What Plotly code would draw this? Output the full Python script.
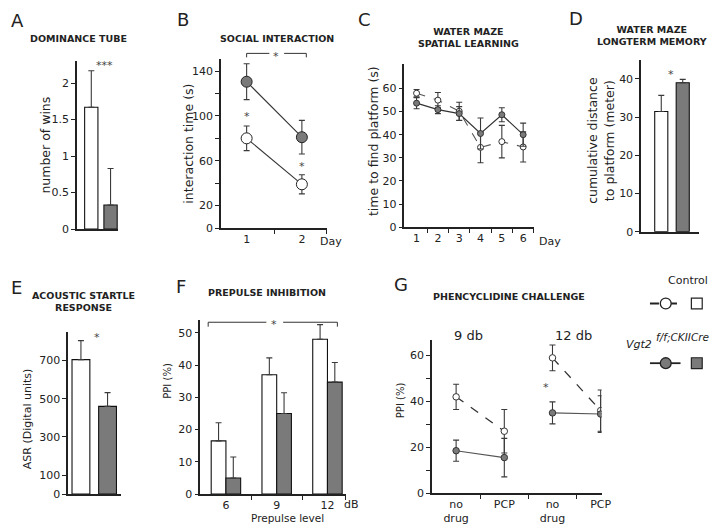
import plotly.graph_objects as go

W, H = 720, 524
FONT = "DejaVu Sans"
INK = "#222222"
GRAY = "#7a7a7a"
EBC = "#3a3a3a"

# ---------------- data ----------------
# A dominance tube
a_pos = [0, 1]
a_means = [1.67, 0.33]
a_err = [0.50, 0.50]
# B social interaction
b_days = [1, 2]
b_ctrl = [80, 39]
b_ctrl_err = [11, 8.5]
b_mut = [130.5, 81]
b_mut_err = [16, 15]
# C water maze spatial learning
c_days = [1, 2, 3, 4, 5, 6]
c_ctrl = [57.9, 54.9, 50.1, 34.5, 37.0, 34.7]
c_ctrl_err = [1.6, 3.3, 3.9, 6.6, 7.0, 6.5]
c_mut = [53.6, 50.8, 49.1, 40.5, 48.6, 40.0]
c_mut_err = [2.4, 1.7, 3.0, 6.7, 3.0, 5.0]
# D water maze longterm memory
d_pos = [0, 1]
d_means = [31.5, 39.0]
d_err = [4.2, 0.9]
# E acoustic startle
e_pos = [0, 1]
e_means = [705, 460]
e_err = [100, 72]
# F prepulse inhibition
f_pos = [0, 1, 2]
f_levels = ["6", "9", "12"]
f_ctrl = [16.5, 37.0, 48.0]
f_ctrl_err = [5.6, 5.2, 4.5]
f_mut = [5.0, 25.0, 34.7]
f_mut_err = [6.5, 6.4, 6.1]
# G phencyclidine challenge
g_pos = [1, 2, 3, 4]
g_labels = ["no<br>drug", "PCP", "no<br>drug", "PCP"]
g_ctrl = [42.0, 27.0, 59.0, 36.0]
g_ctrl_err = [5.5, 9.5, 5.6, 9.0]
g_mut = [18.5, 15.5, 35.0, 34.5]
g_mut_err = [4.6, 8.4, 4.8, 8.0]


def fx(px):
    return px / W


def fy(py):
    return 1 - py / H


def dom_x(a, b):
    return [fx(a), fx(b)]


def dom_y(top, bottom):
    return [fy(bottom), fy(top)]


def axis(**kw):
    d = dict(showline=True, linecolor=INK, linewidth=1.5, ticks="outside",
             ticklen=4, tickwidth=1.2, tickcolor=INK, showgrid=False,
             zeroline=False, fixedrange=True,
             tickfont=dict(family=FONT, size=11, color=INK))
    d.update(kw)
    return d


def ebar(err, up_only=False, width=3):
    d = dict(type="data", array=err, color=EBC, thickness=1.1, width=width,
             visible=True)
    if up_only:
        d["symmetric"] = False
        d["arrayminus"] = [0] * len(err)
    return d


fig = go.Figure()
bar_line = dict(color="#111111", width=1.1)

# ---- A ----
fig.add_trace(go.Bar(x=a_pos, y=a_means, width=0.69,
                     marker=dict(color=["white", GRAY], line=bar_line),
                     error_y=ebar(a_err, True), xaxis="x", yaxis="y"))
# ---- B ----
fig.add_trace(go.Scatter(x=b_days, y=b_mut, mode="lines+markers",
                         line=dict(color="#333", width=1.1),
                         marker=dict(size=11, color=GRAY, line=dict(color="#222", width=1)),
                         error_y=ebar(b_mut_err), xaxis="x2", yaxis="y2"))
fig.add_trace(go.Scatter(x=b_days, y=b_ctrl, mode="lines+markers",
                         line=dict(color="#333", width=1.1),
                         marker=dict(size=11, color="white", line=dict(color="#222", width=1)),
                         error_y=ebar(b_ctrl_err), xaxis="x2", yaxis="y2"))
# ---- C ----
fig.add_trace(go.Scatter(x=c_days, y=c_ctrl, mode="lines+markers",
                         line=dict(color="#555", width=1.1, dash="dash"),
                         marker=dict(size=6, color="white", line=dict(color="#333", width=1)),
                         error_y=ebar(c_ctrl_err), xaxis="x3", yaxis="y3"))
fig.add_trace(go.Scatter(x=c_days, y=c_mut, mode="lines+markers",
                         line=dict(color="#333", width=1.2),
                         marker=dict(size=6, color=GRAY, line=dict(color="#333", width=1)),
                         error_y=ebar(c_mut_err), xaxis="x3", yaxis="y3"))
# ---- D ----
fig.add_trace(go.Bar(x=d_pos, y=d_means, width=0.61,
                     marker=dict(color=["white", GRAY], line=bar_line),
                     error_y=ebar(d_err, True), xaxis="x4", yaxis="y4"))
# ---- E ----
fig.add_trace(go.Bar(x=e_pos, y=e_means, width=0.67,
                     marker=dict(color=["white", GRAY], line=bar_line),
                     error_y=ebar(e_err, True), xaxis="x5", yaxis="y5"))
# ---- F ----
fig.add_trace(go.Bar(x=f_pos, y=f_ctrl, width=0.29, offset=-0.29,
                     marker=dict(color="white", line=bar_line),
                     error_y=ebar(f_ctrl_err, True), xaxis="x6", yaxis="y6"))
fig.add_trace(go.Bar(x=f_pos, y=f_mut, width=0.29, offset=0,
                     marker=dict(color=GRAY, line=bar_line),
                     error_y=ebar(f_mut_err, True), xaxis="x6", yaxis="y6"))
# ---- G ----
for sl in (slice(0, 2), slice(2, 4)):
    fig.add_trace(go.Scatter(x=g_pos[sl], y=g_ctrl[sl], mode="lines+markers",
                             line=dict(color="#333", width=1.3, dash="dash"),
                             marker=dict(size=6.5, color="white", line=dict(color="#333", width=1)),
                             error_y=ebar(g_ctrl_err[sl]), xaxis="x7", yaxis="y7"))
    fig.add_trace(go.Scatter(x=g_pos[sl], y=g_mut[sl], mode="lines+markers",
                             line=dict(color="#555", width=1.1),
                             marker=dict(size=6.5, color=GRAY, line=dict(color="#333", width=1)),
                             error_y=ebar(g_mut_err[sl]), xaxis="x7", yaxis="y7"))

noxt = dict(showticklabels=False, ticks="")
minor_tick = lambda vals: dict(tickvals=vals, ticks="outside", ticklen=4,
                               tickwidth=1.2, tickcolor=INK)

fig.update_layout(
    width=W, height=H, margin=dict(l=0, r=0, t=0, b=0),
    plot_bgcolor="white", paper_bgcolor="white", showlegend=False,
    barmode="overlay", font=dict(family=FONT, color=INK),
    # A
    xaxis=axis(domain=dom_x(70, 112), range=[-0.74, 1.41], anchor="y", **noxt),
    yaxis=axis(domain=dom_y(54, 224), range=[0, 2.3], anchor="x",
               tickvals=[0, 0.5, 1, 1.5, 2], ticktext=["0", "0.5", "1", "1.5", "2"]),
    # B
    xaxis2=axis(domain=dom_x(216, 323), range=[0.536, 2.446], anchor="y2",
                tickvals=b_days, ticktext=[str(d) for d in b_days], ticks="",
                minor=minor_tick([1.5, 2.44])),
    yaxis2=axis(domain=dom_y(52, 223), range=[0, 150.5], anchor="x2",
                tickvals=[0, 20, 40, 60, 80, 100, 120, 140],
                ticktext=["0", "20", " ", "60", " ", "100", " ", "140"]),
    # C
    xaxis3=axis(domain=dom_x(402, 533), range=[0.43, 6.49], anchor="y3",
                tickvals=c_days, ticktext=[str(d) for d in c_days], ticks="",
                minor=minor_tick([1.5, 2.5, 3.5, 4.5, 5.5, 6.48])),
    yaxis3=axis(domain=dom_y(57, 222.3), range=[0, 70.4], anchor="x3",
                tickvals=[0, 10, 20, 30, 40, 50, 60]),
    # D
    xaxis4=axis(domain=dom_x(642, 701), range=[-0.94, 1.77], anchor="y4", **noxt),
    yaxis4=axis(domain=dom_y(53, 226.7), range=[0, 44.9], anchor="x4",
                tickvals=[0, 10, 20, 30, 40]),
    # E
    xaxis5=axis(domain=dom_x(61, 115), range=[-0.48, 1.52], anchor="y5", **noxt),
    yaxis5=axis(domain=dom_y(328, 492.7), range=[0, 852], anchor="x5",
                tickvals=[0, 100, 300, 500, 700]),
    # F
    xaxis6=axis(domain=dom_x(195, 343), range=[-0.505, 2.37], anchor="y6",
                tickvals=f_pos, ticktext=f_levels, ticks="",
                minor=minor_tick([0.5, 1.5, 2.36])),
    yaxis6=axis(domain=dom_y(316.7, 492.7), range=[0, 53.8], anchor="x6",
                tickvals=[0, 10, 20, 30, 40, 50]),
    # G
    xaxis7=axis(domain=dom_x(430, 602), range=[0.5, 4.02], anchor="y7",
                tickvals=g_pos, ticktext=g_labels, ticks="",
                minor=minor_tick([1.5, 2.5, 3.5])),
    yaxis7=axis(domain=dom_y(336.7, 491.7), range=[0, 66.7], anchor="x7",
                tickvals=[0, 10, 20, 30, 40, 50, 60],
                ticktext=["0", " ", "20", " ", "40", " ", "60"]),
)

ann = []


def text(x, y, s, size=11, bold=False, angle=0, xanchor="center", italic=False,
         color=INK):
    if bold:
        s = "<b>" + s + "</b>"
    if italic:
        s = "<i>" + s + "</i>"
    ann.append(dict(x=fx(x), y=fy(y), xref="paper", yref="paper", text=s,
                    showarrow=False, textangle=angle, xanchor=xanchor,
                    yanchor="middle", font=dict(family=FONT, size=size, color=color)))


# panel letters
for L, x, y in [("A", 10, 13), ("B", 177, 12), ("C", 362, 12), ("D", 576, 11),
                ("E", 9, 283), ("F", 175, 282), ("G", 399, 280)]:
    text(x, y, L, size=18)

# titles
text(71, 31, "DOMINANCE TUBE", 9.5, True)
text(273, 31, "SOCIAL INTERACTION", 9.5, True)
text(467, 30, "WATER MAZE<br>SPATIAL LEARNING", 9.5, True)
text(653, 28, "WATER MAZE<br>LONGTERM MEMORY", 9.5, True)
text(77, 297, "ACOUSTIC STARTLE<br>RESPONSE", 9.5, True)
text(263, 288, "PREPULSE INHIBITION", 9.5, True)
text(508, 292, "PHENCYCLIDINE CHALLENGE", 9.5, True)

# axis titles
text(38, 139, "number of wins", 12.5, angle=-90)
text(183, 137, "interaction time (s)", 12.5, angle=-90)
text(370, 135, "time to find platform (s)", 12.5, angle=-90)
text(601, 134, "cumulative distance<br>to platform (meter)", 12.5, angle=-90)
text(20, 417, "ASR (Digital units)", 11, angle=-90)
text(162, 378, "PPI (%)", 10, angle=-90)
text(398, 397, "PPI (%)", 10, angle=-90)
text(328, 237, "Day", 11)
text(550, 237, "Day", 11)
text(348, 503, "dB", 11)
text(283, 517, "Prepulse level", 10.5)
text(467, 332, "9 db", 13)
text(573, 332, "12 db", 13)

# significance stars
for x, y, s in [(98, 58, "***"), (242, 110, "*"), (298, 161, "*"), (272, 49, "*"),
                (672, 67, "*"), (90, 334, "*"), (270, 321, "*"), (546, 385, "*")]:
    text(x, y, s, 11, color="#444444")

# legend
text(690, 276, "Control", 11)
text(655, 341, "Vgt2", 11, xanchor="right", italic=True)
text(655, 333, "f/f;CKIICre", 10.5, xanchor="left", italic=True)
fig.update_layout(annotations=ann)

shapes = []
L = dict(color="#333", width=1)


def seg(x0, y0, x1, y1, line=L):
    shapes.append(dict(type="line", xref="paper", yref="paper",
                       x0=fx(x0), y0=fy(y0), x1=fx(x1), y1=fy(y1), line=line))


# bracket B
seg(242, 50, 242, 46); seg(242, 46, 265, 46); seg(280, 46, 302.5, 46); seg(302.5, 46, 302.5, 50)
# bracket F
seg(203, 323, 203, 318.5); seg(203, 318.5, 262, 318.5); seg(279, 318.5, 334, 318.5); seg(334, 318.5, 334, 323)
# legend keys
seg(651, 299.5, 682, 299.5, dict(color="#222", width=1.8, dash="dash"))
seg(651, 360, 682, 360, dict(color="#222", width=1.8))
for cy, fill in [(299.5, "white"), (360, GRAY)]:
    shapes.append(dict(type="circle", xref="paper", yref="paper",
                       x0=fx(661.5), x1=fx(672.5), y0=fy(cy + 5.5), y1=fy(cy - 5.5),
                       fillcolor=fill, line=dict(color="#222", width=1.3)))
    shapes.append(dict(type="rect", xref="paper", yref="paper",
                       x0=fx(693), x1=fx(704), y0=fy(cy + 5.5), y1=fy(cy - 5.5),
                       fillcolor=fill, line=dict(color="#222", width=1.2)))
fig.update_layout(shapes=shapes)

fig.write_html("out.html")
